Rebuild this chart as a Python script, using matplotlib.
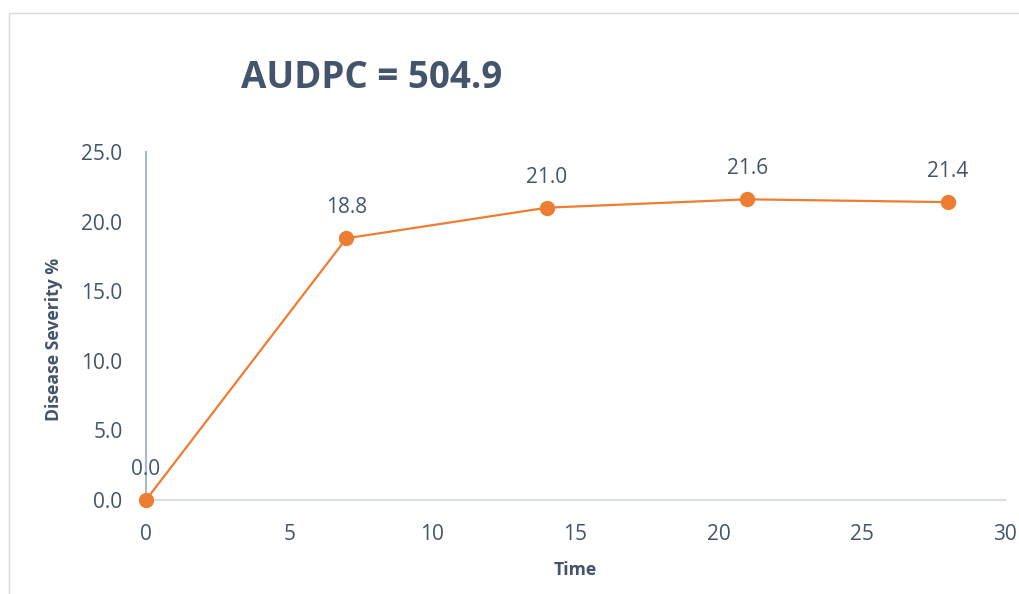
import matplotlib.pyplot as plt
from matplotlib.patches import Rectangle
from matplotlib.ticker import FormatStrFormatter

# disease progress readings
time_days = [0, 7, 14, 21, 28]
severity = [0.0, 18.8, 21.0, 21.6, 21.4]
audpc = 504.9

TEXT_COLOR = '#44546A'
LINE_COLOR = '#ED7D31'

plt.rcParams['font.family'] = ['Open Sans', 'DejaVu Sans']

fig = plt.figure(figsize=(10.2, 5.94), dpi=100)
fig.patch.set_facecolor('white')

# chart area frame
fig.patches.append(Rectangle((9 / 1020, -0.1), 1.2, 1 - 13 / 594 + 0.1,
                             transform=fig.transFigure, fill=False,
                             edgecolor='#D9D9D9', linewidth=1.0))

ax = fig.add_axes([146 / 1020, 1 - 500 / 594, 859 / 1020, 348 / 594])
ax.plot(time_days, severity, color=LINE_COLOR, linewidth=1.6,
        marker='o', markersize=10, markerfacecolor=LINE_COLOR,
        markeredgecolor=LINE_COLOR, zorder=3, clip_on=False)

for x, y in zip(time_days, severity):
    ax.annotate(f'{y:.1f}', (x, y), xytext=(0, 22), textcoords='offset points',
                ha='center', va='center', fontsize=15, color=TEXT_COLOR)

ax.set_xlim(0, 30)
ax.set_ylim(0, 25)
ax.set_xticks(range(0, 31, 5))
ax.set_yticks(range(0, 26, 5))
ax.yaxis.set_major_formatter(FormatStrFormatter('%.1f'))
ax.tick_params(length=0, labelsize=15, labelcolor=TEXT_COLOR)
ax.tick_params(axis='x', pad=17)
ax.tick_params(axis='y', pad=17)

for side in ['top', 'right']:
    ax.spines[side].set_visible(False)
ax.spines['left'].set_color('#ADB9CA')
ax.spines['left'].set_linewidth(1.5)
ax.spines['bottom'].set_color('#D9DEE5')
ax.spines['bottom'].set_linewidth(1.5)

ax.set_xlabel('Time', fontsize=12.7, fontweight='bold', color=TEXT_COLOR, labelpad=12)
ax.set_ylabel('Disease Severity %', fontsize=12.7, fontweight='bold', color=TEXT_COLOR)
ax.yaxis.set_label_coords(-0.097, 0.46)

fig.text(372 / 1020, 1 - 78 / 594, f'AUDPC = {audpc}', ha='center', va='center',
         fontsize=26.5, fontweight='bold', color=TEXT_COLOR)

fig.savefig('out.png', dpi=100)
